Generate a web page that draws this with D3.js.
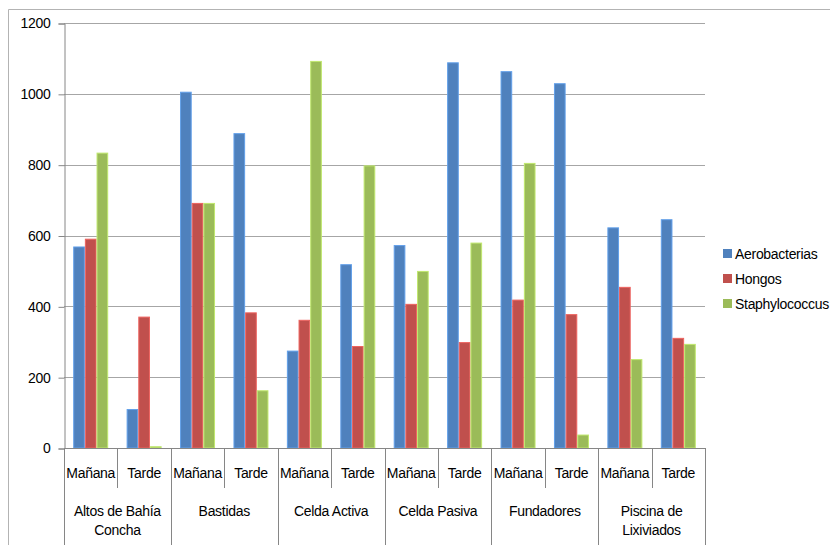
<!DOCTYPE html>
<html>
<head>
<meta charset="utf-8">
<script src="https://cdn.jsdelivr.net/npm/d3@7"></script>
<style>
  html, body { margin: 0; padding: 0; background: #fff; }
  svg { display: block; font-family: "Liberation Sans", Arial, sans-serif; }
  svg text { letter-spacing: -0.3px; }
</style>
</head>
<body>
<svg id="chart" width="830" height="545"></svg>
<script>
// Sampling sites and the two sampling times at each one
const sites = ["Altos de Bahía\nConcha", "Bastidas", "Celda Activa", "Celda Pasiva", "Fundadores", "Piscina de\nLixiviados"];
const times = ["Mañana", "Tarde"];
const seriesNames = ["Aerobacterias", "Hongos", "Staphylococcus"];
const seriesColors = ["#4F81BD", "#C0504D", "#9BBB59"];

// Counts per site/time (order: Mañana, Tarde for each site)
const aerobacterias = [569, 110, 1006, 889, 275, 519, 573, 1089, 1064, 1030, 623, 646];
const hongos        = [591, 371, 692, 383, 362, 288, 407, 299, 419, 378, 455, 311];
const staphylococcus = [834, 5, 692, 163, 1093, 798, 500, 580, 805, 38, 251, 294];

const yTicks = [0, 200, 400, 600, 800, 1000, 1200];

const seriesValues = [aerobacterias, hongos, staphylococcus];
const rows = [];
sites.forEach((s, si) => times.forEach((t, ti) => {
  const i = si * times.length + ti;
  rows.push({ key: i, site: s, time: t, values: seriesValues.map(v => v[i]) });
}));

const FS = 14;
const svg = d3.select("#chart");
const plot = { left: 64, right: 705, top: 23, bottom: 448 };

// Outer frame (top and left edges visible)
svg.append("path")
  .attr("d", "M8.5,545 V9.5 H830")
  .attr("fill", "none").attr("stroke", "#b3b3b3").attr("stroke-width", 1);

const y = d3.scaleLinear().domain([0, 1200]).range([plot.bottom, plot.top]);
const x0 = d3.scaleBand().domain(rows.map(r => r.key)).range([plot.left, plot.right])
  .paddingInner(0.345).paddingOuter(0.1725);
const x1 = d3.scaleBand().domain(d3.range(seriesNames.length)).range([0, x0.bandwidth()]);
const step = x0.step();

// Horizontal gridlines
svg.append("g").selectAll("line").data(yTicks.filter(d => d > 0)).join("line")
  .attr("x1", plot.left).attr("x2", plot.right)
  .attr("y1", d => Math.round(y(d)) + 0.5).attr("y2", d => Math.round(y(d)) + 0.5)
  .attr("stroke", "#a6a6a6").attr("stroke-width", 1);

// Y axis
const yAxis = d3.axisLeft(y).tickValues(yTicks).tickFormat(d3.format("d")).tickSize(6).tickPadding(8);
const gy = svg.append("g").attr("transform", `translate(${plot.left + 0.5},0.5)`).call(yAxis);
gy.attr("font-size", FS).attr("font-family", "Liberation Sans, Arial, sans-serif");
gy.select(".domain").attr("stroke", "#868686");
gy.selectAll(".tick line").attr("stroke", "#868686");
gy.selectAll(".tick text").attr("fill", "#000");

// Bars
const groups = svg.append("g").selectAll("g").data(rows).join("g")
  .attr("transform", d => `translate(${x0(d.key)},0)`);
groups.selectAll("rect").data(d => d.values.map((v, i) => ({ v, i }))).join("rect")
  .attr("x", d => x1(d.i) + 0.5)
  .attr("width", x1.bandwidth() - 1)
  .attr("y", d => y(d.v) + 0.5)
  .attr("height", d => Math.max(0, plot.bottom - y(d.v) - 0.5))
  .attr("fill", d => seriesColors[d.i])
  .attr("stroke", d => d3.color(seriesColors[d.i]).brighter(0.6))
  .attr("stroke-width", 1);

// X axis baseline
svg.append("line")
  .attr("x1", plot.left).attr("x2", plot.right)
  .attr("y1", plot.bottom + 0.5).attr("y2", plot.bottom + 0.5)
  .attr("stroke", "#868686");

// Category dividers: short between times, long between sites
const divs = d3.range(rows.length + 1);
svg.append("g").selectAll("line").data(divs).join("line")
  .attr("x1", i => Math.round(plot.left + i * step) + 0.5)
  .attr("x2", i => Math.round(plot.left + i * step) + 0.5)
  .attr("y1", plot.bottom)
  .attr("y2", i => i % times.length === 0 ? 545 : 488)
  .attr("stroke", "#868686");

// Time labels
svg.append("g").selectAll("text").data(rows).join("text")
  .attr("x", d => plot.left + (d.key + 0.5) * step)
  .attr("y", 478)
  .attr("text-anchor", "middle").attr("font-size", FS).attr("fill", "#000")
  .text(d => d.time);

// Site labels (may wrap to two lines)
const siteG = svg.append("g").selectAll("text").data(sites).join("text")
  .attr("x", (d, i) => plot.left + (i + 0.5) * step * times.length)
  .attr("y", 516)
  .attr("text-anchor", "middle").attr("font-size", FS).attr("fill", "#000");
siteG.selectAll("tspan").data(d => d.split("\n")).join("tspan")
  .attr("x", function () { return d3.select(this.parentNode).attr("x"); })
  .attr("dy", (d, i) => i === 0 ? 0 : 18.5)
  .text(d => d);

// Legend
const legend = svg.append("g").attr("transform", "translate(723,0)");
const items = legend.selectAll("g").data(seriesNames).join("g")
  .attr("transform", (d, i) => `translate(0,${249 + i * 25})`);
items.append("rect").attr("width", 9).attr("height", 9)
  .attr("fill", (d, i) => seriesColors[i]);
items.append("text").attr("x", 12).attr("y", 10)
  .attr("font-size", FS).attr("fill", "#000").text(d => d);
</script>
</body>
</html>
